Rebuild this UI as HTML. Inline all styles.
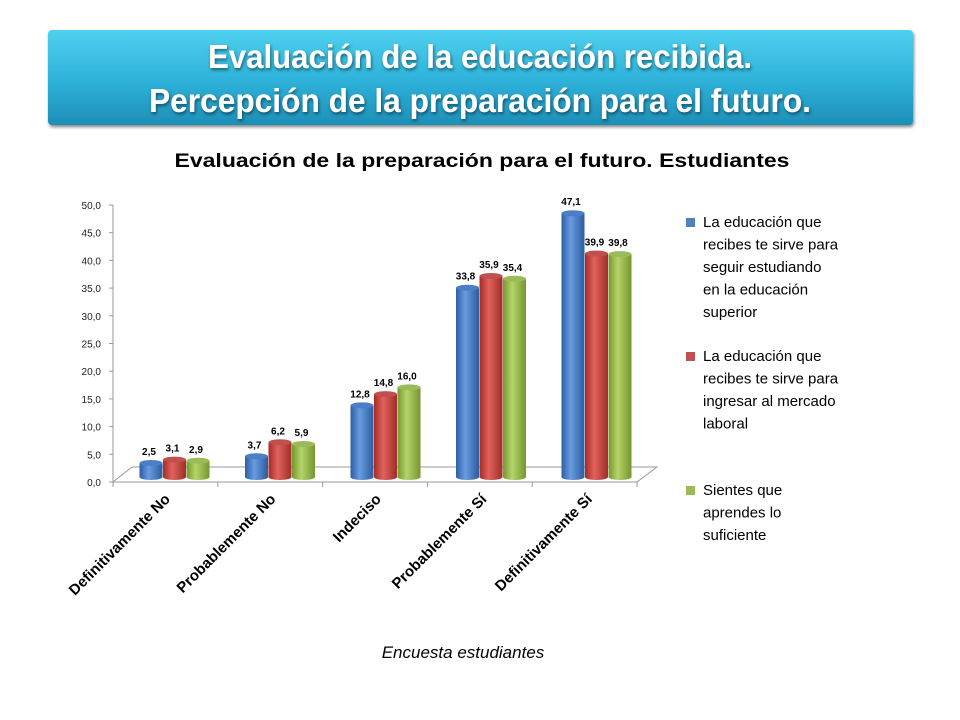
<!DOCTYPE html>
<html><head><meta charset="utf-8"><style>
html,body{margin:0;padding:0;background:#fff;width:960px;height:720px;overflow:hidden}
svg{display:block;font-family:"Liberation Sans",sans-serif}
</style></head><body>
<svg id="chart" width="960" height="720" viewBox="0 0 960 720">
<defs>
<linearGradient id="ban" x1="0" y1="0" x2="0" y2="1"><stop offset="0" stop-color="#4fd0ee"/><stop offset="0.5" stop-color="#2fb4db"/><stop offset="1" stop-color="#1d8fb8"/></linearGradient>
<linearGradient id="gb" x1="0" x2="1"><stop offset="0" stop-color="#2a5ea6"/><stop offset="0.4" stop-color="#6a9be0"/><stop offset="1" stop-color="#2c5c9e"/></linearGradient>
<linearGradient id="gr" x1="0" x2="1"><stop offset="0" stop-color="#a52a26"/><stop offset="0.4" stop-color="#e0625d"/><stop offset="1" stop-color="#a12d28"/></linearGradient>
<linearGradient id="gg" x1="0" x2="1"><stop offset="0" stop-color="#74972e"/><stop offset="0.4" stop-color="#b5d46a"/><stop offset="1" stop-color="#74962f"/></linearGradient>
<filter id="sh"><feDropShadow dx="1" dy="2" stdDeviation="1.5" flood-color="#000" flood-opacity="0.5"/></filter>
</defs>
<rect x="48" y="30" width="865" height="95" rx="4" fill="url(#ban)" filter="url(#sh)"/>
<g fill="#fff" font-weight="bold" font-size="33" text-anchor="middle" filter="url(#sh)">
<text x="480" y="68" textLength="544" lengthAdjust="spacingAndGlyphs">Evaluación de la educación recibida.</text>
<text x="480" y="112" textLength="662" lengthAdjust="spacingAndGlyphs">Percepción de la preparación para el futuro.</text>
</g>
<text x="482" y="167" font-size="19" font-weight="bold" text-anchor="middle" textLength="615" lengthAdjust="spacingAndGlyphs">Evaluación de la preparación para el futuro. Estudiantes</text>
<g id="axes"></g>
<g id="bars"></g>
<g id="legend" font-size="15" fill="#000"></g>
<text x="463" y="658" font-size="17" font-style="italic" text-anchor="middle">Encuesta estudiantes</text>
</svg>
<script>
const categories=["Definitivamente No","Probablemente No","Indeciso","Probablemente Sí","Definitivamente Sí"];
const seriesA=[2.5,3.7,12.8,33.8,47.1];
const seriesB=[3.1,6.2,14.8,35.9,39.9];
const seriesC=[2.9,5.9,16.0,35.4,39.8];
const yTicks=[0,5,10,15,20,25,30,35,40,45,50];
const seriesNames=[["La educación que","recibes te sirve para","seguir estudiando","en la educación","superior"],["La educación que","recibes te sirve para","ingresar al mercado","laboral"],["Sientes que","aprendes lo","suficiente"]];
const NS="http://www.w3.org/2000/svg";
function mk(t,a,p){const e=document.createElementNS(NS,t);for(const k in a)e.setAttribute(k,a[k]);p.appendChild(e);return e;}
const axisY=v=>482-v*(277/50);
const barY=v=>477-v*5.6;
const groupX=i=>151+i*105.5;
const axes=document.getElementById('axes');
// floor
const floor=mk('path',{d:"M113 482 L132 467 L657 467 L637 482",fill:"none",stroke:"#999"},axes);


const yl=mk('line',{x1:113,y1:205,x2:113,y2:482,stroke:"#999"},axes);


const xl=mk('line',{x1:113,y1:482,x2:637,y2:482,stroke:"#999"},axes);


yTicks.forEach(v=>{
 const y=axisY(v);
 mk('line',{x1:109,y1:y,x2:113,y2:y,stroke:"#999"},axes);
 const t=mk('text',{x:101,y:y+4,"font-size":10,"text-anchor":"end",fill:"#222"},axes);
 t.textContent=v.toFixed(1).replace('.',',');
 
 
});
for(let i=0;i<=categories.length;i++){const x=113+i*104.8;mk('line',{x1:x,y1:482,x2:x,y2:487,stroke:"#999"},axes);}
categories.forEach((c,i)=>{
 const x=groupX(i)+20,y=500;
 const t=mk('text',{x:x,y:y,"font-size":15,"font-weight":"bold","text-anchor":"end",transform:`rotate(-45 ${x} ${y})`},axes);
 t.textContent=c;
 
 
});
const bars=document.getElementById('bars');
const series=[seriesA,seriesB,seriesC];
const fills=["url(#gb)","url(#gr)","url(#gg)"];
const tops=["#4a7fc8","#c0504d","#9bbb59"];
series.forEach((s,si)=>{
 s.forEach((v,i)=>{
  const cx=groupX(i)+si*23.5, w=23, x=cx-w/2, y=barY(v), base=477;
  const g=mk('g',{},bars);
  
  
  mk('path',{d:`M${x} ${y} L${x} ${base} A${w/2} 3 0 0 0 ${x+w} ${base} L${x+w} ${y} Z`,fill:fills[si]},g);
  mk('ellipse',{cx:cx,cy:y,rx:w/2,ry:3,fill:tops[si]},g);
  const t=mk('text',{x:cx-2,y:y-8,"font-size":10,"font-weight":"bold","text-anchor":"middle"},g);
  t.textContent=v.toFixed(1).replace('.',',');
  
  
 });
});
const legend=document.getElementById('legend');
const ly=[222,356,490];
const lc=["#4f81bd","#c0504d","#9bbb59"];
seriesNames.forEach((lines,si)=>{
 const g=mk('g',{},legend);
 
 
 mk('rect',{x:686,y:ly[si]-4,width:9,height:9,fill:lc[si]},g);
 lines.forEach((l,j)=>{const t=mk('text',{x:703,y:ly[si]+5+j*22.5},g);t.textContent=l;});
});
</script>
</body></html>
